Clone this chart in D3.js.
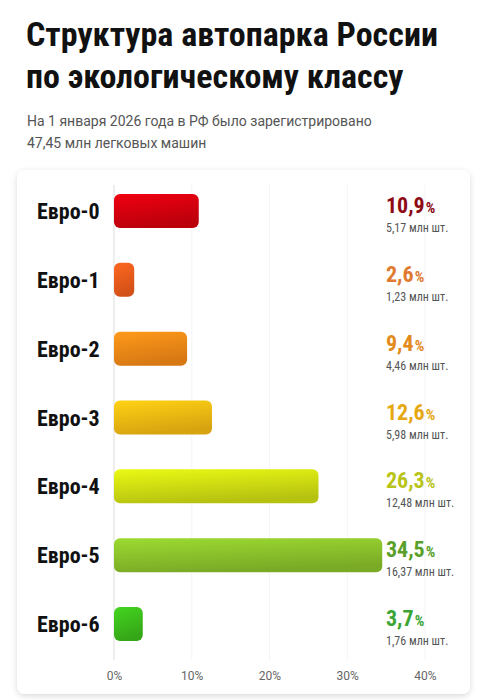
<!DOCTYPE html><html><head><meta charset="utf-8"><script src="https://cdn.jsdelivr.net/npm/d3@7"></script>
<style>body{margin:0;background:#fff}</style></head><body><svg id="c" width="486" height="700"></svg>
<script>
const categories=["Евро-0","Евро-1","Евро-2","Евро-3","Евро-4","Евро-5","Евро-6"];
const shares=[10.9,2.6,9.4,12.6,26.3,34.5,3.7];
const counts=["5,17","1,23","4,46","5,98","12,48","16,37","1,76"];
const ticks=[0,10,20,30,40];
const barColors=["#d8000e","#f25d1c","#f88a17","#f8bd12","#d2e012","#8dc42c","#3dbf1c"];
const textColors=["#8e0b16","#e07a30","#e38a1c","#e6a812","#b9c41a","#5a9f2a","#3aa534"];
const svg=d3.select("#c");const F="'Liberation Sans Narrow','Roboto Condensed',Roboto,sans-serif";
const defs=svg.append("defs");
const sh=defs.append("filter").attr("id","sh").attr("x","-10%").attr("y","-10%").attr("width","120%").attr("height","120%");
sh.append("feDropShadow").attr("dx",0).attr("dy",2).attr("stdDeviation",3).attr("flood-opacity",0.15);
barColors.forEach((c,i)=>{const g=defs.append("linearGradient").attr("id","g"+i).attr("x1",0).attr("y1",0).attr("x2",0.3).attr("y2",1);
g.append("stop").attr("offset",0).attr("stop-color",d3.color(c).brighter(0.3));g.append("stop").attr("offset",1).attr("stop-color",d3.color(c).darker(0.4));});
svg.append("text").attr("x",26).attr("y",46).attr("font-family",F).attr("font-weight",700).attr("font-size",34).attr("fill","#111").text("Структура автопарка России");
svg.append("text").attr("x",26).attr("y",88).attr("font-family",F).attr("font-weight",700).attr("font-size",34).attr("fill","#111").text("по экологическому классу");
svg.append("text").attr("x",27).attr("y",126).attr("font-family","Roboto,sans-serif").attr("font-size",14).attr("fill","#555").text("На 1 января 2026 года в РФ было зарегистрировано");
svg.append("text").attr("x",27).attr("y",148).attr("font-family","Roboto,sans-serif").attr("font-size",14).attr("fill","#555").text("47,45 млн легковых машин");
svg.append("rect").attr("x",17).attr("y",170).attr("width",453).attr("height",524).attr("rx",8).attr("fill","#fff").attr("filter","url(#sh)");
const x=d3.scaleLinear().domain([0,40]).range([114,425]);
const y=d3.scalePoint().domain(categories).range([211,624]);
const bh=34;
svg.append("g").selectAll("line").data(ticks).join("line").attr("x1",d=>x(d)).attr("x2",d=>x(d)).attr("y1",185).attr("y2",660).attr("stroke",d=>d===0?"#ddd":"#f4f4f4");
const ax=svg.append("g").attr("transform","translate(0,668)").call(d3.axisBottom(x).tickValues(ticks).tickFormat(d=>d+"%").tickSize(0));
ax.select(".domain").remove();ax.selectAll("text").attr("font-family","Roboto,sans-serif").attr("font-size",12).attr("fill","#666");
const rows=svg.append("g").selectAll("g").data(categories).join("g");
rows.append("rect").attr("x",x(0)).attr("y",d=>y(d)-bh/2).attr("height",bh).attr("width",(d,i)=>x(shares[i])-x(0)).attr("rx",6).attr("fill",(d,i)=>`url(#g${i})`);
rows.append("text").attr("x",37).attr("y",d=>y(d)+8).attr("font-family",F).attr("font-weight",700).attr("font-size",22).attr("fill","#111").text(d=>d);
rows.append("text").attr("x",386).attr("y",d=>y(d)+2).attr("font-family",F).attr("font-weight",700).attr("font-size",22).attr("fill",(d,i)=>textColors[i])
 .text((d,i)=>String(shares[i]).replace(".",",")).append("tspan").attr("font-size",15).attr("dx",1).text("%");
rows.append("text").attr("x",386).attr("y",d=>y(d)+21).attr("font-family",F).attr("font-size",12).attr("fill","#555").text((d,i)=>counts[i]+" млн шт.");
</script></body></html>
